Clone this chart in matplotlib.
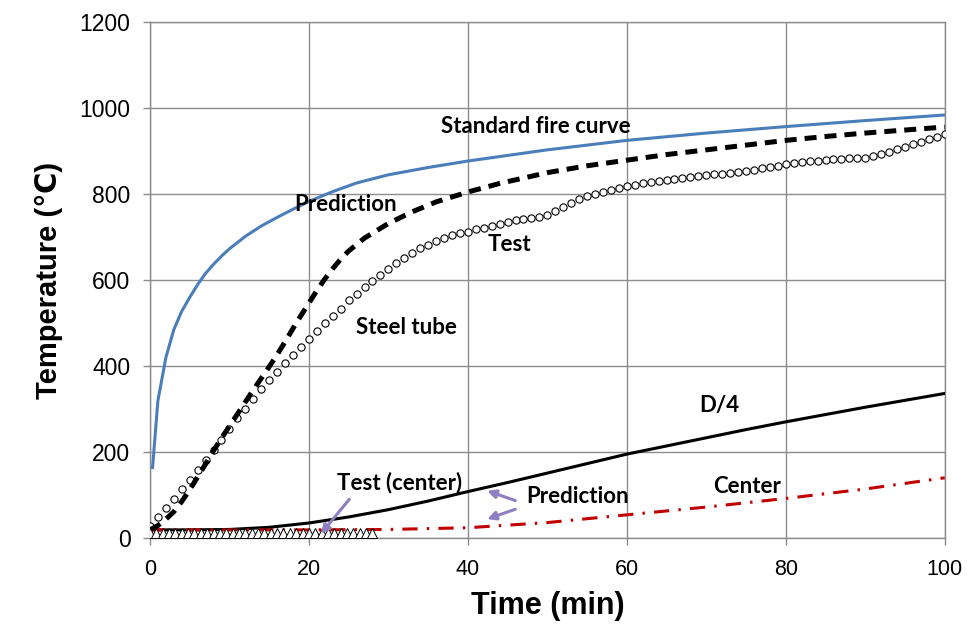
import numpy as np
import matplotlib
matplotlib.use("Agg")
import matplotlib.pyplot as plt

# standard fire curve (ISO-like)
fire_t = [0.33, 1, 1.5, 2, 3, 4, 5, 6, 7, 8, 9, 10, 12, 14, 16, 18, 20, 23, 26, 30,
          35, 40, 45, 50, 55, 60, 70, 80, 90, 100]
fire_T = [165, 320, 370, 420, 485, 528, 560, 590, 616, 637, 656, 673, 702, 726, 746,
          765, 783, 806, 826, 845, 862, 877, 890, 903, 914, 925, 942, 957, 971, 984]

# steel tube prediction (dashed)
pred_t = [0, 1, 2, 3, 4, 5, 6, 7, 8, 9, 10, 11, 12, 13, 14, 15, 16, 17, 18, 19, 20,
          21, 22, 23, 24, 25, 27, 30, 33, 36, 40, 44, 50, 55, 60, 65, 70, 75, 80, 85,
          90, 95, 100]
pred_T = [20, 30, 45, 62, 86, 113, 143, 173, 204, 233, 261, 289, 317, 345, 372, 399,
          427, 457, 488, 518, 547, 576, 603, 627, 649, 668, 698, 732, 759, 782, 805,
          825, 850, 866, 879, 892, 903, 914, 925, 934, 942, 949, 956]

# steel tube test (circles), one per minute
test_T = [30, 50, 70, 92, 114, 137, 160, 182, 205, 229, 254, 279, 301, 325, 347, 368,
          388, 407, 426, 445, 464, 481, 500, 517, 534, 554, 569, 584, 598, 612, 625,
          640, 652, 663, 674, 683, 691, 698, 704, 709, 713, 718, 722, 727, 731, 735,
          739, 742, 745, 748, 752, 760, 770, 780, 789, 796, 801, 806, 810, 814, 818,
          821, 825, 828, 831, 834, 836, 838, 840, 842, 844, 846, 848, 850, 852, 854,
          857, 860, 863, 866, 869, 872, 874, 876, 878, 880, 881, 882, 883, 884, 885,
          888, 893, 898, 904, 910, 916, 922, 928, 934, 940]
test_t = list(range(len(test_T)))

# D/4 prediction (solid black)
d4_t = [0, 5, 10, 15, 20, 25, 30, 35, 40, 45, 50, 55, 60, 65, 70, 75, 80, 85, 90, 95, 100]
d4_T = [20, 20, 21, 26, 36, 50, 67, 87, 109, 130, 152, 174, 196, 215, 234, 253, 271,
        288, 305, 321, 337]

# center prediction (red dash-dot)
ctr_t = [0, 10, 20, 30, 40, 50, 60, 70, 80, 90, 100]
ctr_T = [20, 20, 20, 21, 25, 37, 55, 73, 93, 115, 141]

# center test (triangles)
ctest_t = [0, 0.8, 1.6, 2.4, 3.2, 4.0, 4.8, 5.6, 6.4, 7.2, 8.0, 8.8, 9.6, 10.4, 11.2,
           12.0, 12.8, 13.6, 14.4, 15.2, 16.0, 16.8, 17.6, 18.4, 19.2, 20.0, 20.8,
           21.6, 22.4, 23.2, 24.0, 24.8, 25.6, 26.4, 27.2, 28.0]
ctest_T = [12, 12, 12, 12, 12, 12, 12, 12, 12, 12, 12, 12, 12, 12, 12, 12, 12, 12, 12,
           12, 12, 12, 13, 13, 13, 13, 13, 13, 13, 13, 13, 13, 13, 13, 13, 13]

fig = plt.figure(figsize=(9.8, 6.4), dpi=100)
ax = fig.add_axes([0.153, 0.1586, 0.811, 0.807])

grid_c = '#8c8c8c'
ax.grid(True, color=grid_c, lw=1)
ax.set_axisbelow(True)
for s in ax.spines.values():
    s.set_color(grid_c)
    s.set_linewidth(1)

ax.plot(fire_t, fire_T, color='#4a7ebb', lw=2.2, zorder=3)
ax.plot(pred_t, pred_T, color='black', lw=3.6, dashes=(2.4, 1.6), zorder=4)
ax.plot(test_t, test_T, ls='none', marker='o', ms=5.2, mfc='white', mec='black',
        mew=0.8, zorder=3)
ax.plot(d4_t, d4_T, color='black', lw=2.2, zorder=3)
ax.plot(ctr_t, ctr_T, color='#c00000', lw=2.2, dashes=(5, 3, 0.8, 3), zorder=3)
ax.plot(ctest_t, ctest_T, ls='none', marker='^', ms=7, mfc='white', mec='black',
        mew=0.7, zorder=4)

ax.set_xlim(0, 100)
ax.set_ylim(0, 1200)
ax.set_xticks(np.arange(0, 101, 20))
ax.set_yticks(np.arange(0, 1201, 200))
ax.tick_params(direction='out', length=5, color=grid_c, width=1)
ax.tick_params(axis='y', pad=9)
ax.tick_params(axis='x', pad=10)

for lab in ax.get_yticklabels():
    lab.set_fontfamily('Liberation Sans')
    lab.set_fontsize(16.5)
for lab in ax.get_xticklabels():
    lab.set_fontfamily('Liberation Sans')
    lab.set_fontsize(15.5)

ax.set_ylabel('Temperature (℃)', fontsize=21, fontweight='bold',
              family=['Liberation Sans', 'DejaVu Sans'], labelpad=12)
ax.set_xlabel('Time (min)', fontsize=22, fontweight='bold',
              family='Liberation Sans', labelpad=8)

tkw = dict(fontsize=16, fontweight='bold', family='Lato', va='center', ha='left',
           zorder=6)
ax.text(36.6, 958, 'Standard fire curve', **tkw)
ax.text(18.1, 775, 'Prediction', **tkw)
ax.text(42.5, 682, 'Test', **tkw)
ax.text(25.9, 491, 'Steel tube', **tkw)
ax.text(69.1, 310, 'D/4', **tkw)
ax.text(70.9, 120, 'Center', **tkw)
ax.text(47.4, 97, 'Prediction', **tkw)
ax.text(23.5, 131, 'Test (center)', **tkw)

akw = dict(arrowstyle='-|>,head_length=0.5,head_width=0.25', color='#8f7fc0', lw=2.2)
ax.annotate('', xy=(42.1, 113), xytext=(46.3, 86), arrowprops=akw, zorder=5)
ax.annotate('', xy=(42.1, 43), xytext=(46.3, 70), arrowprops=akw, zorder=5)
ax.annotate('', xy=(21.3, 6), xytext=(25.3, 96), arrowprops=akw, zorder=5)

fig.savefig('out.png', dpi=100)
